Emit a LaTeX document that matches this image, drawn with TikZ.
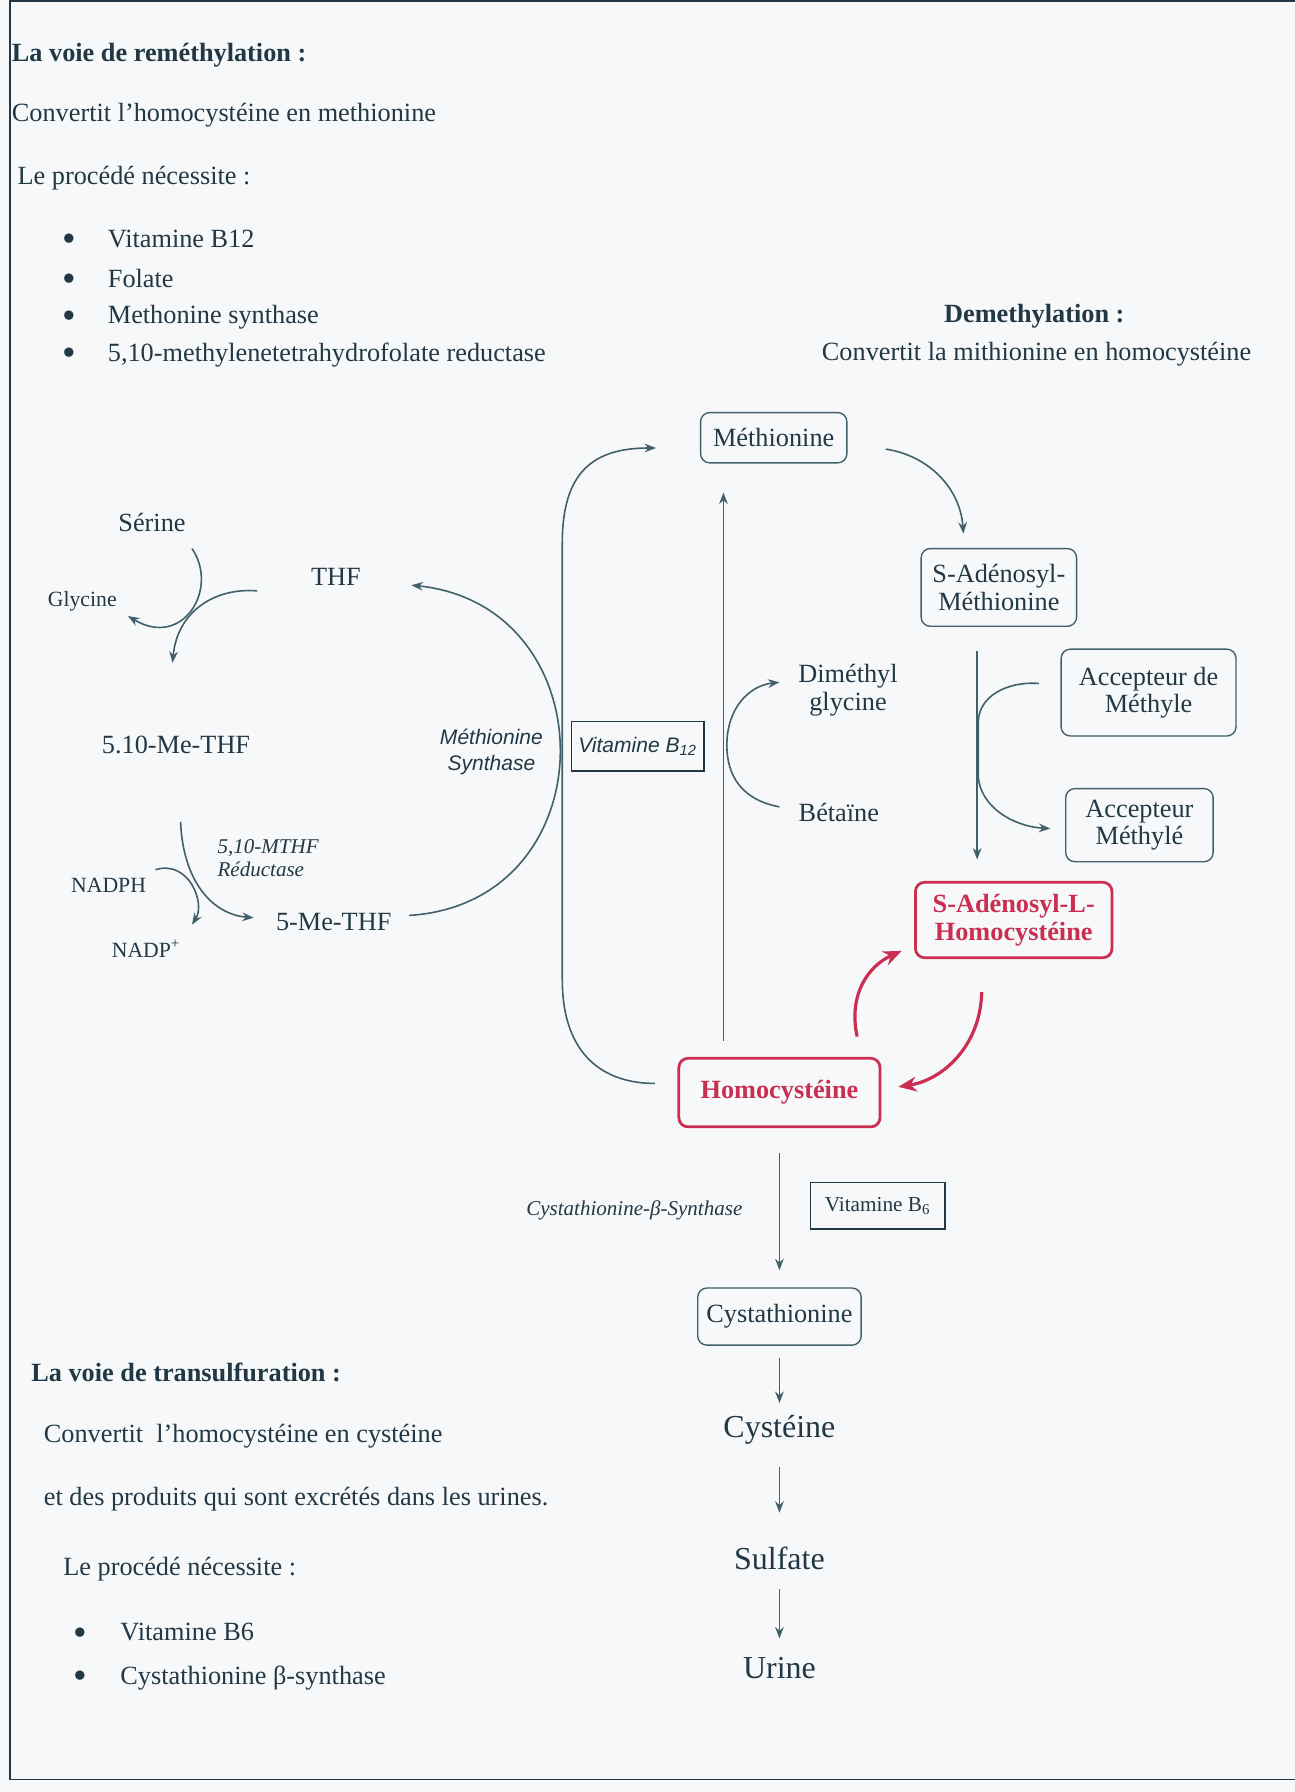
\documentclass[tikz,border=0pt]{standalone}
\usepackage{fontspec}
\setmainfont{Liberation Serif}
\setsansfont{Liberation Sans}
\usetikzlibrary{arrows,arrows.meta,positioning}
\definecolor{Ink}{RGB}{34,56,68}
\definecolor{Wire}{RGB}{66,96,106}
\definecolor{HcyRed}{RGB}{202,46,80}
\definecolor{Paper}{RGB}{246,248,250}
\newcommand{\dotitem}[1]{\makebox[#1][l]{\raisebox{-1.8pt}{\fontsize{17}{17}\selectfont\textbullet}}}

\begin{document}
\begin{tikzpicture}[x=0.5pt, y=-0.5pt,
    txt/.style={inner sep=0pt, anchor=west, text=Ink, font=\fontsize{11.5}{13}\selectfont},
    head/.style={txt, font=\fontsize{11.5}{13}\selectfont\bfseries},
    lbl/.style={inner sep=0pt, align=center, text=Ink, font=\fontsize{11.5}{12}\selectfont},
    tiny/.style={lbl, font=\fontsize{9.5}{11}\selectfont},
    enzyme/.style={lbl, font=\fontsize{9.2}{10}\selectfont\itshape},
    enzsans/.style={lbl, font=\fontsize{9.2}{11}\selectfont\sffamily\itshape},
    big/.style={lbl, font=\fontsize{14}{16}\selectfont, text height=10pt, text depth=3pt},
    block/.style={rectangle, rounded corners=4pt, draw=Wire, line width=0.6pt, inner sep=0pt, align=center, text=Ink, font=\fontsize{11.5}{12}\selectfont},
    redblock/.style={block, draw=HcyRed, line width=1.2pt, text=HcyRed, font=\fontsize{11.5}{12}\selectfont\bfseries},
    vit/.style={rectangle, draw=Ink, line width=0.6pt, inner sep=0pt, text=Ink},
    arrow/.style={-{Stealth[length=5pt, width=3.8pt]}, Wire, line width=0.7pt},
    redarrow/.style={-{Stealth[length=8pt, width=6.5pt]}, HcyRed, line width=1.4pt}
  ]
    \useasboundingbox (0,0) rectangle (1133,1568);
    \fill[Paper] (0,0) rectangle (1133,1568);
    \draw[Ink, line width=0.7pt] (1133,1) -- (9,1) -- (9,1557) -- (1133,1557);

    \node[head] (remhead) at (10,48) {La voie de reméthylation :};
    \node[txt] (remtxt) at (10,101) {Convertit l’homocystéine en methionine};
    \node[txt] (remneed) at (15,156) {Le procédé nécessite :};
    \node[txt] (r1) at (54,211) {\dotitem{20pt}Vitamine B12};
    \node[txt] (r2) at (54,245) {\dotitem{20pt}Folate};
    \node[txt] (r3) at (54,278) {\dotitem{20pt}Methonine synthase};
    \node[txt] (r4) at (54,311) {\dotitem{20pt}5,10-methylenetetrahydrofolate reductase};
    \node[lbl, font=\fontsize{11.5}{13}\selectfont\bfseries] (demhead) at (905,277) {Demethylation :};
    \node[lbl] (demtxt) at (907,310) {Convertit la mithionine en homocystéine};

    \node[lbl] (ser) at (133,457) {Sérine};
    \node[tiny] (gly) at (72,526) {Glycine};
    \node[lbl] (thf) at (294,505) {THF};
    \node[lbl] (mthf) at (154,652) {5.10-Me-THF};
    \node[tiny] (nadph) at (95,775) {NADPH};
    \node[tiny] (nadp) at (128,830) {NADP\textsuperscript{+}};
    \node[enzyme, anchor=west, align=left] (mthfr) at (190,751) {5,10-MTHF\\Réductase};
    \node[lbl] (methf) at (292,807) {5-Me-THF};
    \node[enzsans] (ms) at (430,658) {Méthionine\\Synthase};
    \node[vit, minimum width=58pt, minimum height=21.5pt, font=\fontsize{9.2}{11}\selectfont\sffamily\itshape] (vb12) at (558,653) {Vitamine B\textsubscript{12}};

    \node[block, minimum width=64pt, minimum height=22pt] (met) at (677,383) {Méthionine};
    \node[block, minimum width=68pt, minimum height=34pt] (sam) at (874,514) {S-Adénosyl-\\Méthionine};
    \node[block, minimum width=76.5pt, minimum height=38pt] (accm) at (1005,606) {Accepteur de\\Méthyle};
    \node[block, minimum width=64.5pt, minimum height=32pt] (accd) at (997,722) {Accepteur\\Méthylé};
    \node[redblock, minimum width=86pt, minimum height=33pt] (sah) at (887,805) {S-Adénosyl-L-\\Homocystéine};
    \node[redblock, minimum width=88pt, minimum height=30pt] (hcy) at (682,956) {Homocystéine};
    \node[lbl, align=center] (dmg) at (742,604) {Diméthyl\\glycine};
    \node[lbl] (bet) at (734,711) {Bétaïne};

    \node[enzyme] (cbs) at (555,1059) {Cystathionine-β-Synthase};
    \node[vit, minimum width=59pt, minimum height=20.5pt, font=\fontsize{9.3}{11}\selectfont] (vb6) at (768,1055) {Vitamine B\textsubscript{6}};
    \node[block, minimum width=71.5pt, minimum height=25pt] (cyst) at (682,1152) {Cystathionine};
    \node[big] (cys) at (682,1251) {Cystéine};
    \node[big] (sulf) at (682,1366) {Sulfate};
    \node[big] (urine) at (682,1462) {Urine};

    \node[head] (trhead) at (27,1201) {La voie de transulfuration :};
    \node[txt] (trtxt1) at (38,1257) {Convertit \ l’homocystéine en cystéine};
    \node[txt] (trtxt2) at (38,1312) {et des produits qui sont excrétés dans les urines.};
    \node[txt] (trneed) at (55,1373) {Le procédé nécessite :};
    \node[txt] (t1) at (64,1430) {\dotitem{20.5pt}Vitamine B6};
    \node[txt] (t2) at (64,1468) {\dotitem{20.5pt}Cystathionine β-synthase};

    \coordinate (ser-a) at (168,480);
    \coordinate (ser-b) at (112,539);
    \coordinate (thf-a) at (225,517);
    \coordinate (thf-b) at (151,580);
    \coordinate (red-a) at (158,719);
    \coordinate (red-b) at (222,803);
    \coordinate (nad-a) at (136,761);
    \coordinate (nad-b) at (168,809);
    \coordinate (ms-a) at (358,801);
    \coordinate (ms-b) at (360,512);
    \coordinate (brk-a) at (573,948);
    \coordinate (brk-b) at (574,392);
    \coordinate (up-a) at (633,911);
    \coordinate (up-b) at (633,431);
    \coordinate (bet-a) at (682,706);
    \coordinate (bet-b) at (682,597);
    \coordinate (sam-a) at (775,393);
    \coordinate (sam-b) at (843,467);
    \coordinate (dn-a) at (855,570);
    \coordinate (dn-b) at (855,752);
    \coordinate (acc-a) at (909,598);
    \coordinate (acc-b) at (919,725);
    \coordinate (sah-a) at (750,907);
    \coordinate (sah-b) at (789,832);
    \coordinate (hcy-a) at (859,868);
    \coordinate (hcy-b) at (786,951);

    \draw[arrow] (ser-a) .. controls (192,515) and (160,568) .. (ser-b);
    \draw[arrow] (thf-a) .. controls (188,514) and (155,535) .. (thf-b);
    \draw[arrow] (red-a) .. controls (160,770) and (185,800) .. (red-b);
    \draw[arrow] (nad-a) .. controls (165,752) and (180,790) .. (nad-b);
    \draw[arrow] (ms-a) .. controls (533,790) and (533,530) .. (ms-b);
    \draw[arrow] (brk-a) .. controls (530,948) and (492,925) .. (492,857) -- (492,475) .. controls (492,412) and (520,392) .. (brk-b);
    \draw[arrow] (up-a) -- (up-b);
    \draw[arrow] (bet-a) .. controls (650,700) and (636,680) .. (636,652) .. controls (636,620) and (655,600) .. (bet-b);
    \draw[arrow] (sam-a) .. controls (810,398) and (840,425) .. (sam-b);
    \draw[arrow] (dn-a) -- (dn-b);
    \draw[arrow] (acc-a) .. controls (880,596) and (856,610) .. (856,632) -- (856,680) .. controls (858,705) and (885,723) .. (acc-b);
    \draw[redarrow] (sah-a) .. controls (742,870) and (760,845) .. (sah-b);
    \draw[redarrow] (hcy-a) .. controls (858,915) and (825,945) .. (hcy-b);

    \draw[arrow] ([yshift=-11pt]hcy.south) -- ([yshift=7.5pt]cyst.north);
    \draw[arrow, shorten <=5.5pt, shorten >=5pt] (cyst) -- (cys);
    \draw[arrow, shorten <=9.5pt, shorten >=14.5pt] (cys) -- (sulf);
    \draw[arrow, shorten <=5.5pt, shorten >=7.5pt] (sulf) -- (urine);
  \end{tikzpicture}
\end{document}
